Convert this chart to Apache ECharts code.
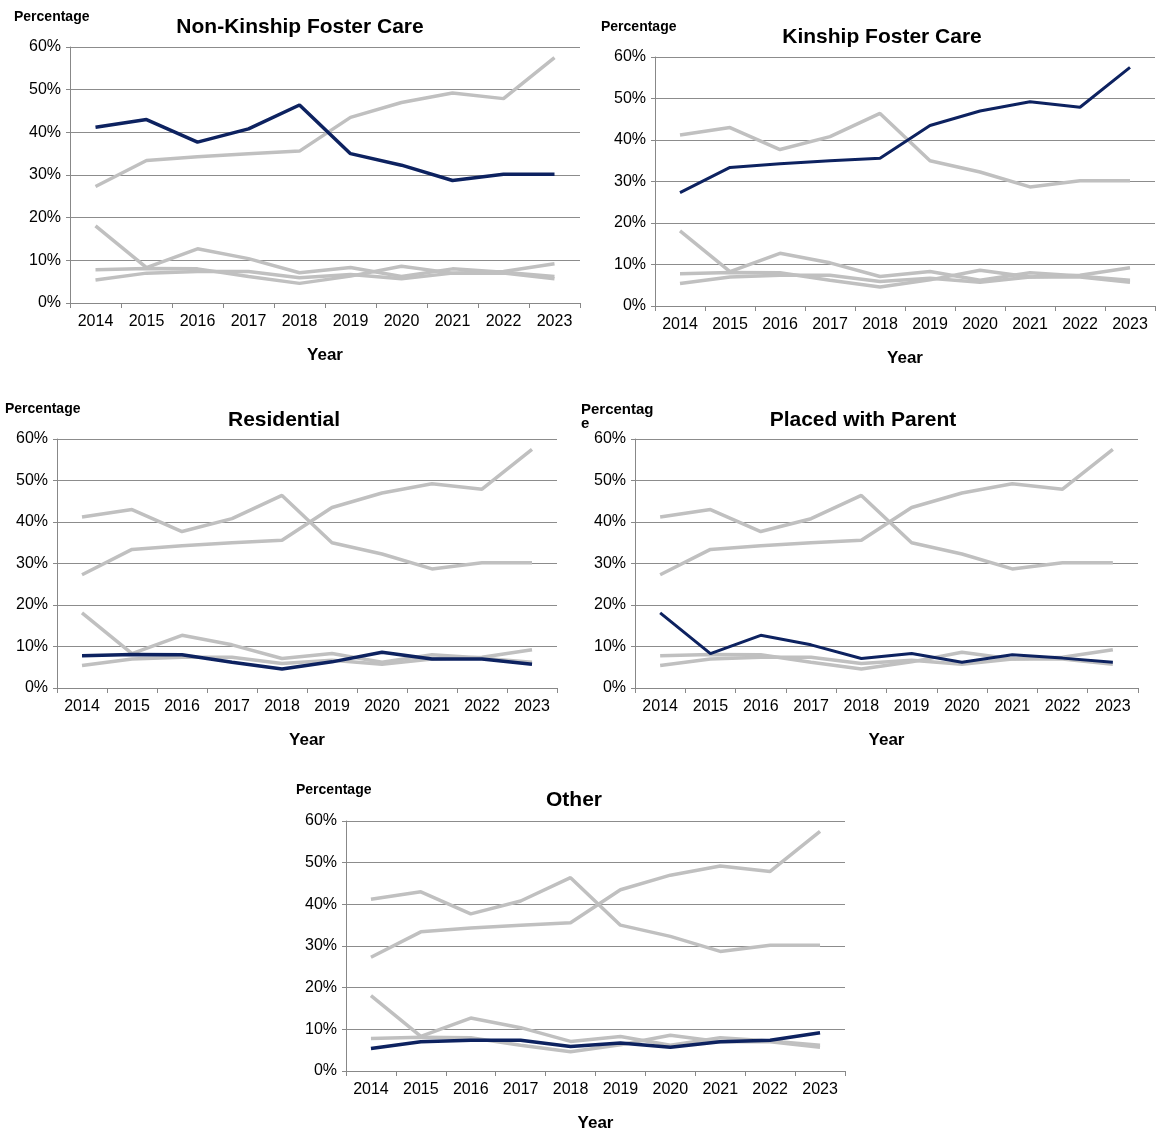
<!DOCTYPE html>
<html lang="en">
<head>
<meta charset="UTF-8">
<title>Placement types</title>
<script src="https://cdn.jsdelivr.net/npm/echarts@6/dist/echarts.min.js"></script>
<style>
  html, body { margin: 0; padding: 0; background: #fff; }
  #main { width: 1163px; height: 1133px; }
</style>
</head>
<body>
<div id="main"></div>
<script>
var years = ['2014', '2015', '2016', '2017', '2018', '2019', '2020', '2021', '2022', '2023'];
var yTicks = ['0%', '10%', '20%', '30%', '40%', '50%', '60%'];

var nonKinship = [41.2, 43.0, 37.7, 40.8, 46.4, 35.0, 32.3, 28.7, 30.2, 30.2];
var kinship    = [27.3, 33.4, 34.3, 35.0, 35.6, 43.5, 47.0, 49.2, 47.9, 57.5];
var parent     = [18.1, 8.3, 12.7, 10.4, 7.1, 8.3, 6.2, 8.0, 7.2, 6.2];
var residential= [7.8, 8.1, 8.0, 6.2, 4.6, 6.3, 8.6, 7.0, 7.0, 5.7];
var other      = [5.4, 7.0, 7.4, 7.4, 5.9, 6.7, 5.7, 7.0, 7.4, 9.2];

var allSeries = [nonKinship, kinship, residential, parent, other];
var titles = ['Non-Kinship Foster Care', 'Kinship Foster Care', 'Residential', 'Placed with Parent', 'Other'];

// plot areas: left, top, width, height
var boxes = [
    [70, 47, 510, 256],
    [655, 57, 500, 249],
    [57, 439, 500, 249],
    [635, 439, 503, 249],
    [346, 821, 499, 252]
];
var titlePos = [[295, 12], [877, 22], [279, 405], [858, 405], [569, 785]];
var pctPos = [[14, 10], [601, 20], [5, 402], [581, 402], [296, 783]];

var grids = [], xAxes = [], yAxes = [], series = [], graphics = [], titleList = [];

boxes.forEach(function (b, i) {
    grids.push({left: b[0], top: b[1], width: b[2], height: b[3]});
    xAxes.push({
        type: 'category', gridIndex: i, data: years, boundaryGap: true,
        axisLine: {lineStyle: {color: '#888', width: 1}},
        axisTick: {show: true, length: 5, lineStyle: {color: '#888'}},
        axisLabel: {color: '#000', fontSize: 16, fontFamily: 'Liberation Sans', margin: 11},
        name: 'Year', nameLocation: 'middle', nameGap: 44,
        nameTextStyle: {fontSize: 17, fontWeight: 'bold', color: '#000', fontFamily: 'Liberation Sans'}
    });
    yAxes.push({
        type: 'value', gridIndex: i, min: 0, max: 60, interval: 10,
        axisLine: {show: true, lineStyle: {color: '#888', width: 1}},
        axisTick: {show: true, length: 4, lineStyle: {color: '#888'}},
        splitLine: {lineStyle: {color: '#8c8c8c', width: 1}},
        axisLabel: {color: '#000', fontSize: 16, fontFamily: 'Liberation Sans', margin: 9,
            formatter: function (v) { return yTicks[v / 10]; }}
    });
    allSeries.forEach(function (d, j) {
        if (j === i) return;
        series.push({type: 'line', xAxisIndex: i, yAxisIndex: i, data: d, symbol: 'none',
            lineStyle: {color: '#c0c0c0', width: 3.5}, z: 2, silent: true});
    });
    series.push({type: 'line', xAxisIndex: i, yAxisIndex: i, data: allSeries[i], symbol: 'none',
        lineStyle: {color: '#0d2260', width: i === 3 || i === 1 ? 3 : 3.5}, z: 3, silent: true});
    titleList.push({text: titles[i], left: titlePos[i][0], top: titlePos[i][1], textAlign: 'center',
        textStyle: {fontSize: 21, fontWeight: 'bold', color: '#000', fontFamily: 'Liberation Sans'}});
    graphics.push({type: 'text', left: pctPos[i][0], top: pctPos[i][1],
        style: {text: i === 3 ? 'Percentag\ne' : 'Percentage', fontSize: i === 3 ? 15 : 14, lineHeight: 14,
            fontWeight: 'bold', fill: '#000', fontFamily: 'Liberation Sans'}});
});

var chart = echarts.init(document.getElementById('main'));
chart.setOption({
    animation: false,
    title: titleList,
    grid: grids,
    xAxis: xAxes,
    yAxis: yAxes,
    series: series,
    graphic: graphics
});
</script>
</body>
</html>
